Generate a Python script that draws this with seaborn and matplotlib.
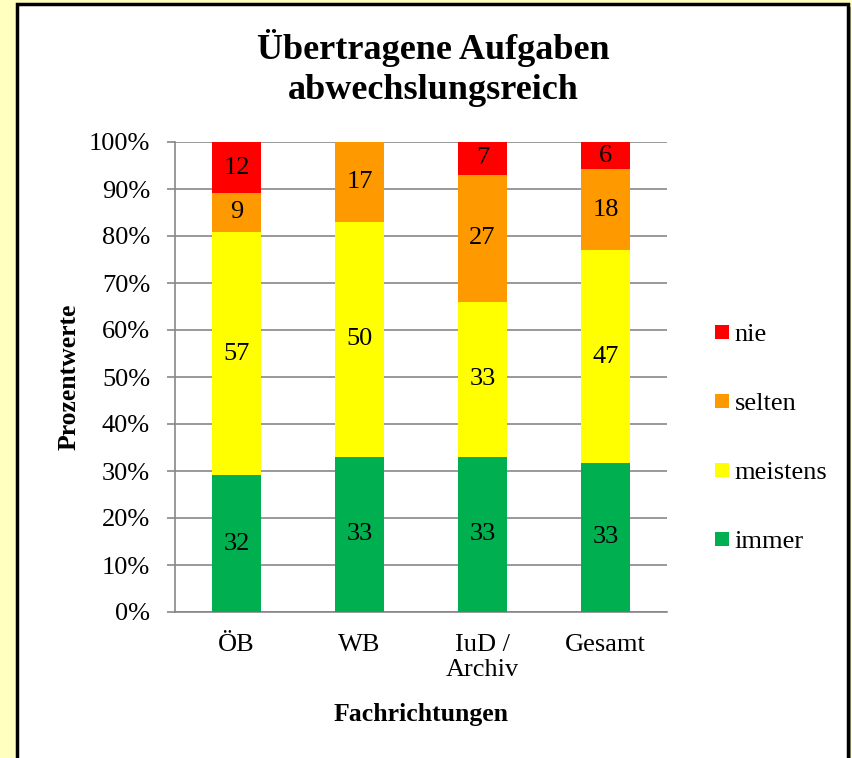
import numpy as np
import pandas as pd
import matplotlib.pyplot as plt
import seaborn as sns
from matplotlib.patches import Rectangle
from matplotlib.lines import Line2D

# Chart data (counts per answer, shown as labels; bars are 100% stacked)
categories = ["ÖB", "WB", "IuD /\nArchiv", "Gesamt"]
immer = [32, 33, 33, 33]
meistens = [57, 50, 33, 47]
selten = [9, 17, 27, 18]
nie = [12, 0, 7, 6]

series_names = ["immer", "meistens", "selten", "nie"]
series_colors = ["#00B050", "#FFFF00", "#FF9900", "#FF0000"]

counts = np.array([immer, meistens, selten, nie], dtype=float)
pct = counts / counts.sum(axis=0) * 100
cum = pct.cumsum(axis=0)

sns.set_style("white")
plt.rcParams['font.family'] = ['Liberation Serif', 'DejaVu Serif']
plt.rcParams.update({"text.color": "black", "axes.labelcolor": "black",
                     "xtick.color": "black", "ytick.color": "black"})

FS = 19

fig = plt.figure(figsize=(8.52, 7.58), dpi=100, facecolor="#FFFFC0")

# white chart area with black border and a little shadow
fig.patches.append(Rectangle((19 / 852, -0.05), 832 / 852, 1.05 - 7 / 758,
                             transform=fig.transFigure, facecolor="#A6A886",
                             edgecolor="none", zorder=0))
fig.patches.append(Rectangle((17 / 852, -0.05), 831 / 852, 1.05 - 4 / 758,
                             transform=fig.transFigure, facecolor="white",
                             edgecolor="black", linewidth=2.5, zorder=1))

ax = fig.add_axes([175 / 852, 1 - 612 / 758, 492 / 852, 470 / 758])
ax.set_facecolor("none")
ax.set_zorder(2)

# draw cumulative bars from the top down so each segment stays visible
for i in range(len(series_names) - 1, -1, -1):
    df = pd.DataFrame({"Fachrichtung": categories, "Wert": cum[i]})
    sns.barplot(data=df, x="Fachrichtung", y="Wert", color=series_colors[i],
                saturation=1, width=0.4, ax=ax, zorder=3, linewidth=0)

# segment labels
for i in range(len(series_names)):
    for j in range(len(categories)):
        if counts[i, j] == 0:
            continue
        mid = cum[i, j] - pct[i, j] / 2
        ax.text(j, mid, f"{int(counts[i, j])}", ha="center", va="center",
                fontsize=FS, color="black", zorder=4)

ax.set_xlim(-0.5, 3.5)
ax.set_ylim(0, 100)
ax.set_yticks(np.arange(0, 101, 10))
ax.set_yticklabels([f"{v}%" for v in range(0, 101, 10)], fontsize=FS)
ax.yaxis.grid(True, color="#878787", linewidth=1.2, zorder=0)
ax.set_axisbelow(True)

ax.set_xticks([0, 1, 2, 3])
ax.set_xticklabels(categories, fontsize=FS, linespacing=1.15)
ax.set_xticks([-0.5, 0.5, 1.5, 2.5, 3.5], minor=True)
ax.tick_params(axis="x", which="major", length=0, pad=16)
ax.tick_params(axis="x", which="minor", length=6, color="#878787", width=1.2)
ax.tick_params(axis="y", length=6, color="#878787", labelcolor="black",
               width=1.2, pad=12, left=True)

for side in ["top", "right"]:
    ax.spines[side].set_visible(False)
for side in ["left", "bottom"]:
    ax.spines[side].set_color("#878787")
    ax.spines[side].set_linewidth(1.2)

ax.set_xlabel("Fachrichtungen", fontsize=18.5, fontweight="bold")
ax.xaxis.set_label_coords(0.5, -(714 - 612) / 470)
ax.xaxis.label.set_va("center")
ax.set_ylabel("Prozentwerte", fontsize=18.5, fontweight="bold")
ax.yaxis.set_label_coords((81 - 175) / 492, 0.5)

fig.text(433 / 852, 1 - 68 / 758, "Übertragene Aufgaben\nabwechslungsreich",
         ha="center", va="center", fontsize=26, fontweight="bold",
         linespacing=1.25)

handles = [Line2D([], [], marker="s", linestyle="none", markersize=9.5,
                  markerfacecolor=series_colors[i], markeredgewidth=0)
           for i in range(len(series_names) - 1, -1, -1)]
labels = series_names[::-1]
fig.legend(handles, labels, loc="center left",
           bbox_to_anchor=(715 / 852, 1 - 438 / 758), frameon=False,
           fontsize=FS, labelspacing=1.73, handlelength=0.5,
           handletextpad=0.25, borderpad=0, borderaxespad=0)

fig.savefig("out.png", dpi=100, facecolor=fig.get_facecolor())
